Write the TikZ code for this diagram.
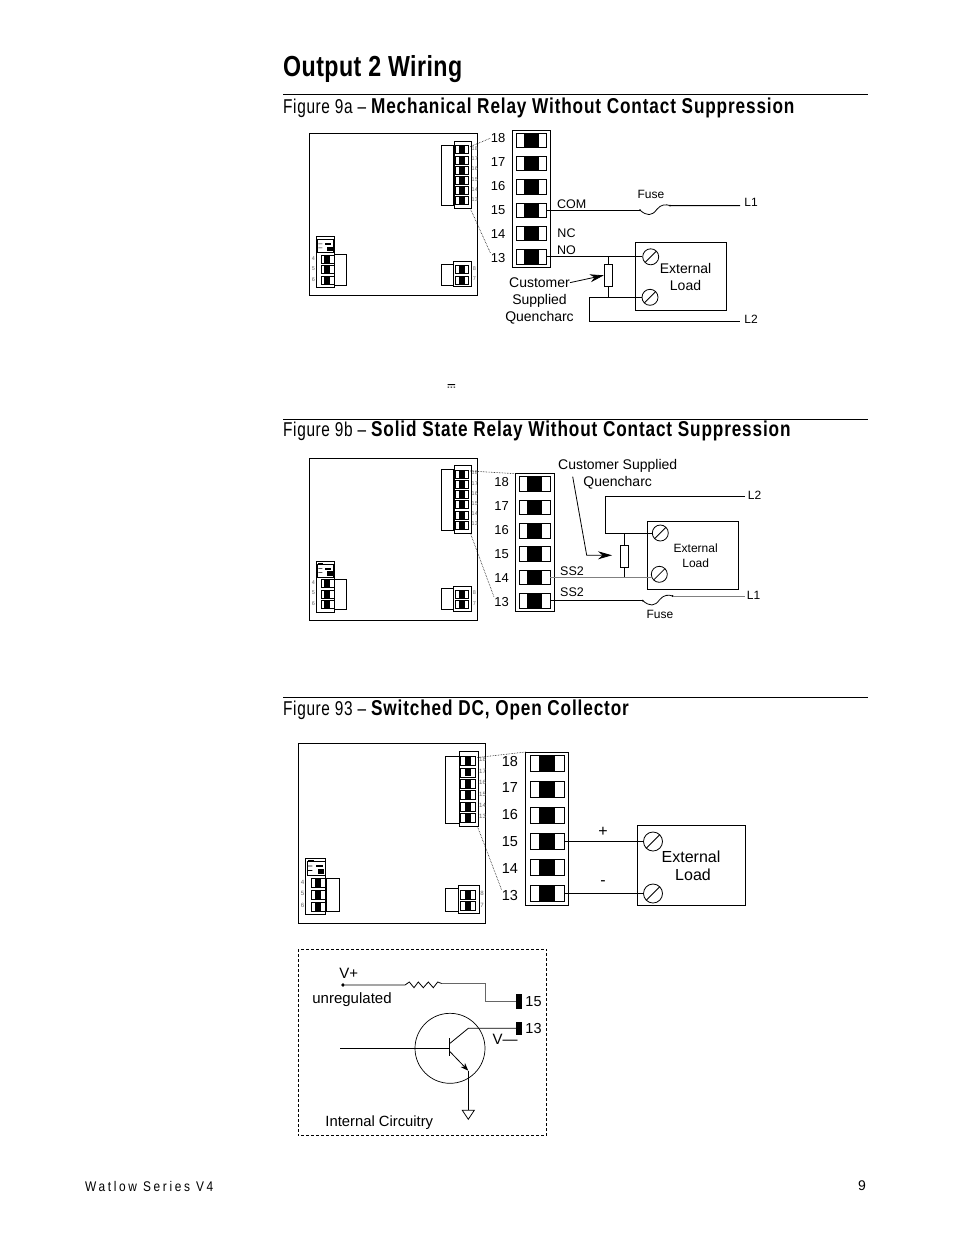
\documentclass[tikz,border=0pt]{standalone}
\usepackage{fontspec}
\setmainfont{Liberation Sans}
\newfontfamily\figfont[FakeStretch=0.77,LetterSpace=3.2]{Liberation Sans}
\newfontfamily\headfont[FakeStretch=0.8,LetterSpace=4]{Liberation Sans}
\newfontfamily\titlefont[FakeStretch=0.8,LetterSpace=1.5]{Liberation Sans}
\newfontfamily\footfont[FakeStretch=0.85,LetterSpace=19]{Liberation Sans}
\usetikzlibrary{arrows.meta}
\newcommand{\fsize}[1]{\fontsize{#1}{#1}\selectfont}
\newcommand{\headline}[2]{{\figfont\fsize{20}#1 – }{\headfont\fsize{21.5}\bfseries #2}}
\tikzset{
  wire/.style={line width=0.8pt},
  leader/.style={line width=0.6pt, densely dotted},
  label/.style={inner sep=0pt, align=center, anchor=mid, yshift=-2.5pt},
  screw/.style={circle, draw, line width=0.8pt, minimum size=16pt, inner sep=0pt,
    path picture={\draw[line width=0.8pt] (path picture bounding box.south west) -- (path picture bounding box.north east);}},
  loadbox/.style={draw, line width=0.8pt, inner sep=0pt, minimum width=91.5pt, minimum height=68pt},
  quench/.style={draw, line width=0.8pt, fill=white, inner sep=0pt, minimum width=8.5pt, minimum height=22pt},
  bigpin/.style={draw, line width=0.7pt, inner sep=0pt, minimum width=30.5pt, minimum height=14.5pt, transform shape},
  tinypin/.style={draw, line width=0.6pt, inner sep=0pt, minimum width=13pt, minimum height=8pt, transform shape},
  tinynum/.style={inner sep=0pt, text=gray!80!black, font=\fsize{5.5}, transform shape},
  pics/strip/.style={code={
    \draw[line width=0.8pt] (-19.2,-68.6) rectangle (19.2,68.6);
    \coordinate (-tl) at (-19.2,-68.6);
    \foreach \n/\y/\ly in {18/-58.3/-61,17/-35/-37,16/-11.7/-13,15/11.7/11,14/35/35,13/58.3/59} {
      \node[bigpin] (-t\n) at (0,\y) {};
      \fill (-7.5,\y-7.2) rectangle (7.5,\y+7.2);
      \node[label, transform shape, font=\fsize{13}] (-n\n) at (-33.3,\ly) {\n};
    }
  }},
  pics/fuse/.style={code={
    \coordinate (-a) at (0,0);
    \coordinate (-b) at (30,-4.6);
    \draw[wire] (-a) .. controls (7,6) and (12,6) .. (17,-1) .. controls (21,-6) and (26,-6) .. (-b);
    \fill (-a) circle (1pt) (-b) circle (1pt);
  }},
  pics/board/.style={code={
    \draw[line width=0.8pt] (0,0) rectangle (168,162);
    \draw[line width=0.7pt] (145,7.7) rectangle (162,75);
    \draw[line width=0.7pt] (132,11.7) rectangle (144.5,72);
    \coordinate (-top) at (161,13);
    \coordinate (-bot) at (161,75);
    \foreach \n/\y in {18/16,17/26.4,16/36.4,15/46.7,14/57,13/67} {
      \node[tinypin] (-s\n) at (152.4,\y) {};
      \fill (149.4,\y-3.6) rectangle (155.4,\y+3.6);
      \node[tinynum] (-m\n) at (165.5,\y-1) {\n};
    }
    \draw[line width=0.7pt] (7,103) rectangle (24.7,154);
    \draw[line width=0.5pt] (8,106) rectangle (24,119);
    \fill (16,109.5) rectangle (22,111.5);
    \fill (18,113) rectangle (23.5,117.5);
    \fill (9,105) rectangle (14,105.8);
    \fill (9,110) rectangle (13,110.7) (9,114) rectangle (13,114.7);
    \draw[line width=0.7pt] (25.4,121) rectangle (37.4,151.4);
    \foreach \n/\y in {4/125.7,5/136,6/146.7} {
      \node[tinypin] (-s\n) at (18,\y) {};
      \fill (15,\y-3.6) rectangle (21,\y+3.6);
      \node[tinynum] (-m\n) at (4,\y-1) {\n};
    }
    \draw[line width=0.7pt] (144,128) rectangle (162.4,153);
    \draw[line width=0.7pt] (132,130.7) rectangle (144,151.4);
    \foreach \n/\y in {8/136,7/146.4} {
      \node[tinypin] (-s\n) at (152.4,\y) {};
      \fill (149.4,\y-3.6) rectangle (155.4,\y+3.6);
      \node[tinynum] (-m\n) at (165,\y-1) {\n};
    }
  }}
}

\begin{document}
\begin{tikzpicture}[x=1pt, y=-1pt]
\useasboundingbox (0,0) rectangle (954,1235);

\draw (283,76) node[anchor=base west, inner sep=0pt] (title) {\titlefont\fsize{29}\bfseries Output 2 Wiring};
\draw[line width=0.7pt] (283,94) -- (868,94);
\draw (283,113) node[anchor=base west, inner sep=0pt] (headA) {\headline{Figure 9a}{Mechanical Relay Without Contact Suppression}};
\draw[line width=0.7pt] (283,419) -- (868,419);
\draw (283,436) node[anchor=base west, inner sep=0pt] (headB) {\headline{Figure 9b}{Solid State Relay Without Contact Suppression}};
\draw[line width=0.7pt] (283,697) -- (868,697);
\draw (283,715) node[anchor=base west, inner sep=0pt] (headC) {\headline{Figure 93}{Switched DC, Open Collector}};

\draw (309.3,133.5) pic (boardA) {board};
\draw (531.3,198.5) pic (stripA) {strip};
\draw[leader] (boardA-top) -- (stripA-n18.west);
\draw[leader] (boardA-bot) -- (stripA-n13.north west);
\draw (681,276.3) node[loadbox] (loadA) {};
\draw (650.7,256.8) node[screw] (screwA1) {};
\draw (650,297.3) node[screw] (screwA2) {};
\draw (608.5,275.3) node[quench] (quenchA) {};
\draw (640,210.2) pic (fuseA) {fuse};
\coordinate (endL1A) at (740,205.6);
\coordinate (endL2A) at (740,321.3);
\coordinate (topA) at (608.5,256.8);
\coordinate (botA) at (608.5,297.3);
\coordinate (cornerA) at (589.3,297.3);
\coordinate (cornerB) at (589.3,321.3);
\draw[wire] (stripA-t15.east) -- (fuseA-a);
\draw[wire] (fuseA-b) -- (endL1A);
\draw[wire] (stripA-t13.east) -- (screwA1.west);
\draw[wire] (topA) -- (quenchA.north);
\draw[wire] (quenchA.south) -- (botA);
\draw[wire] (screwA2.west) -- (cornerA) -- (cornerB) -- (endL2A);
\draw (651,193.3) node[label, font=\fsize{12}] (fuseLabelA) {Fuse};
\draw (751,201.7) node[label, font=\fsize{12}] (lineA1) {L1};
\draw (751,318.3) node[label, font=\fsize{12}] (lineA2) {L2};
\draw (571.7,203.5) node[label, font=\fsize{12.5}] (comA) {COM};
\draw (566.5,232.5) node[label, font=\fsize{12.5}] (ncA) {NC};
\draw (566.5,249) node[label, font=\fsize{12.5}] (noA) {NO};
\draw (685.5,268.3) node[label, font=\fsize{14}] (extA) {External};
\draw (685.5,285) node[label, font=\fsize{14}] (extB) {Load};
\draw (539.5,282.3) node[label, font=\fsize{14}] (custA) {Customer};
\draw (539.5,299) node[label, font=\fsize{14}] (custB) {Supplied};
\draw (539.5,316.5) node[label, font=\fsize{14}] (custC) {Quencharc};
\draw[wire, -{Stealth[length=14pt,width=8pt]}] (custA.east) -- (quenchA.west);
\fill (447.5,384) rectangle (455,385) (447.5,386.5) rectangle (449,387.5) (450.7,386.5) rectangle (452,387.5) (453.5,386.5) rectangle (455,387.5);

\draw (309.3,458) pic (boardB) {board};
\draw (534.8,542.3) pic (stripB) {strip};
\draw[leader] (boardB-top) -- (stripB-tl);
\draw[leader] (boardB-bot) -- (stripB-n13.north west);
\draw (692.7,555.3) node[loadbox] (loadB) {};
\draw (660.3,533) node[screw] (screwB1) {};
\draw (659.3,574.3) node[screw] (screwB2) {};
\draw (624.5,556.3) node[quench] (quenchB) {};
\draw (642.7,600.6) pic (fuseB) {fuse};
\coordinate (endL1B) at (745,596);
\coordinate (endL2B) at (745,496.7);
\coordinate (topB) at (624.5,533);
\coordinate (botB) at (624.5,577.3);
\coordinate (cornerC) at (605.7,496.7);
\coordinate (cornerD) at (605.7,533);
\draw[line width=1.1pt, gray] (stripB-t14.east) -- (screwB2.west |- stripB-t14.east);
\draw[wire] (stripB-t13.east) -- (fuseB-a);
\draw[wire, gray] (fuseB-b) -- (endL1B);
\draw[wire] (endL2B) -- (cornerC) -- (cornerD) -- (screwB1.west);
\draw[wire] (topB) -- (quenchB.north);
\draw[wire] (quenchB.south) -- (botB);
\draw (660,613.3) node[label, font=\fsize{12}] (fuseLabelB) {Fuse};
\draw (753.5,594) node[label, font=\fsize{12}] (lineB1) {L1};
\draw (754.5,494.3) node[label, font=\fsize{12}] (lineB2) {L2};
\draw (572,570) node[label, font=\fsize{12.5}] (ssA) {SS2};
\draw (572,591) node[label, font=\fsize{12.5}] (ssB) {SS2};
\draw (695.7,547.7) node[label, font=\fsize{12}] (extC) {External};
\draw (695.7,562.5) node[label, font=\fsize{12}] (extD) {Load};
\draw (617.7,464) node[label, font=\fsize{14}] (custD) {Customer Supplied};
\draw (617.7,481.3) node[label, font=\fsize{14}] (custE) {Quencharc};
\coordinate (custStart) at (572.7,476.7);
\coordinate (custBend) at (586.7,555.3);
\coordinate (custEnd) at (612,555.3);
\draw[wire, -{Stealth[length=14pt,width=8pt]}] (custStart) -- (custBend) -- (custEnd);

\draw (298,743) pic[scale=1.115] (boardC) {board};
\draw (547,828.5) pic[scale=1.115] (stripC) {strip};
\draw[leader] (boardC-top) -- (stripC-tl);
\draw[leader] (boardC-bot) -- (stripC-n13.north west);
\draw (691,865) node[loadbox, minimum width=108pt, minimum height=80pt] (loadC) {};
\draw (653,841.5) node[screw, minimum size=19pt] (screwC1) {};
\draw (653,893.5) node[screw, minimum size=19pt] (screwC2) {};
\draw[wire] (stripC-t15.east) -- (screwC1.west);
\draw[wire] (stripC-t13.east) -- (screwC2.west);
\draw (603,831) node[label, font=\fsize{16}] (plusC) {+};
\draw (603,880) node[label, font=\fsize{16}] (minusC) {-};
\draw (691,857.5) node[label, font=\fsize{16}] (extE) {External};
\draw (693,875.5) node[label, font=\fsize{16}] (extF) {Load};

\draw[line width=0.8pt, densely dashed] (298,949) rectangle (546.7,1135.7);
\draw (450,1048.3) node[circle, draw, line width=0.7pt, minimum size=70pt, inner sep=0pt] (tranCircle) {};
\draw (348.7,973.3) node[label, font=\fsize{15}] (vplus) {V+};
\draw (352,998.3) node[label, font=\fsize{15}] (unreg) {unregulated};
\draw (343,985) node[circle, fill, inner sep=1.4pt] (vdot) {};
\draw (519,1001.6) node[fill, inner sep=0pt, minimum width=6pt, minimum height=14.5pt] (padA) {};
\draw (519,1028.3) node[fill, inner sep=0pt, minimum width=6pt, minimum height=13.5pt] (padB) {};
\draw (533.5,1001.3) node[label, font=\fsize{14.5}] (padNumA) {15};
\draw (533.5,1028.3) node[label, font=\fsize{14.5}] (padNumB) {13};
\draw (505,1039) node[label, font=\fsize{15}] (vminus) {V---};
\draw (379.3,1121) node[label, font=\fsize{14.8}] (internal) {Internal Circuitry};
\coordinate (zigL) at (405,985);
\coordinate (zigR) at (441.7,983.5);
\coordinate (bendA) at (485,983.5);
\coordinate (bendB) at (485,1001.6);
\coordinate (colTop) at (468.3,1028.3);
\coordinate (colBot) at (450,1043.3);
\coordinate (baseL) at (340,1048);
\coordinate (baseR) at (449.3,1048);
\coordinate (barT) at (449.3,1038.3);
\coordinate (barB) at (449.3,1056);
\coordinate (emitTop) at (450,1051.7);
\coordinate (emitBot) at (468.3,1070.7);
\coordinate (gndTop) at (468.3,1110.3);
\draw[wire] (vdot) -- (zigL) -- (409.3,982) -- (414,987.7) -- (418.3,982) -- (423.3,987.7) -- (428.3,982) -- (433.3,987.7) -- (437.7,982) -- (zigR);
\draw[wire, gray!80!black] (zigR) -- (bendA) -- (bendB) -- (padA.west);
\draw[wire] (padB.west) -- (colTop) -- (colBot);
\draw[wire] (baseL) -- (baseR);
\draw[line width=1pt] (barT) -- (barB);
\draw[wire, -{Stealth[length=8pt,width=6pt]}] (emitTop) -- (emitBot);
\draw[wire] (emitBot) -- (gndTop);
\draw[wire] (gndTop) -- ++(-6,0) -- ++(6,9) -- ++(6,-9) -- cycle;

\draw (85,1191) node[anchor=base west, inner sep=0pt] (footL) {\footfont\fsize{14}Watlow Series V4};
\draw (862,1185) node[label, font=\fsize{14}] (footR) {9};
\end{tikzpicture}
\end{document}
